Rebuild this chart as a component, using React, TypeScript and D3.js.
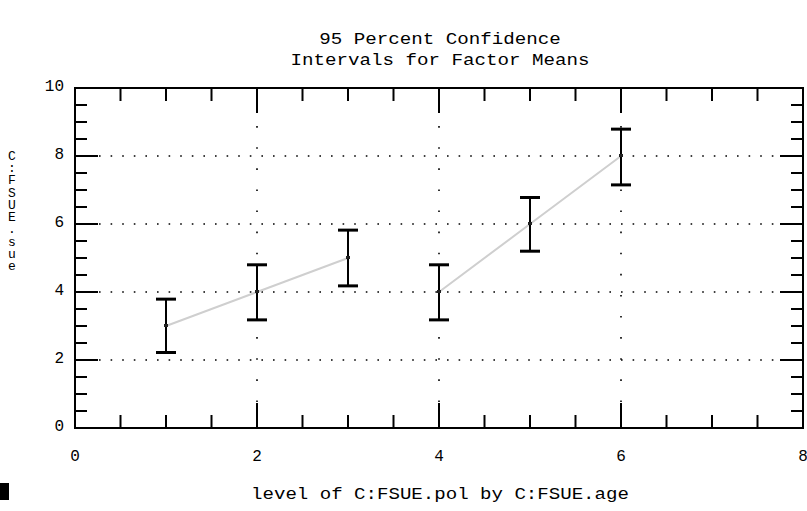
import React, { useEffect, useRef } from "react";
import * as d3 from "d3";

// factor levels and the 95% intervals
const levels = [1, 2, 3, 4, 5, 6];
const means = [3, 4, 5, 4, 6, 8];
const lower = [2.22, 3.18, 4.18, 3.18, 5.2, 7.15];
const upper = [3.79, 4.8, 5.82, 4.8, 6.78, 8.79];
const ageGroup = [1, 1, 1, 2, 2, 2];

const xMajor = [0, 2, 4, 6, 8];
const yMajor = [0, 2, 4, 6, 8, 10];
const titleLines = ["95 Percent Confidence", "Intervals for Factor Means"];
const xTitle = "level of C:FSUE.pol by C:FSUE.age";
const yTitle = "C:FSUE.sue";

const FONT = "'Liberation Mono', 'DejaVu Sans Mono', monospace";

export default function App() {
  const ref = useRef<SVGSVGElement>(null);

  useEffect(() => {
    const svg = d3.select(ref.current);
    svg.selectAll("*").remove();

    const left = 75, right = 803, top = 88, bottom = 428;
    const x = d3.scaleLinear().domain([0, 8]).range([left, right]);
    const y = d3.scaleLinear().domain([0, 10]).range([bottom, top]);

    // title
    titleLines.forEach((t, i) => {
      svg
        .append("text")
        .attr("x", 440)
        .attr("y", 44 + i * 21)
        .attr("text-anchor", "middle")
        .attr("font-family", FONT)
        .attr("font-size", 16)
        .attr("textLength", t.length * 11.5)
        .attr("lengthAdjust", "spacingAndGlyphs")
        .text(t);
    });

    // dotted grid
    const grid = svg.append("g").attr("stroke", "#000").attr("stroke-width", 1.6);
    [2, 4, 6, 8].forEach((v) => {
      grid
        .append("line")
        .attr("x1", left + 24)
        .attr("x2", right - 24)
        .attr("y1", y(v))
        .attr("y2", y(v))
        .attr("stroke-dasharray", "1.6,10");
    });
    [2, 4, 6].forEach((v) => {
      grid
        .append("line")
        .attr("x1", x(v))
        .attr("x2", x(v))
        .attr("y1", bottom - 26)
        .attr("y2", top + 26)
        .attr("stroke-dasharray", "1.6,19.5");
    });

    // frame
    svg
      .append("rect")
      .attr("x", left)
      .attr("y", top)
      .attr("width", right - left)
      .attr("height", bottom - top)
      .attr("fill", "none")
      .attr("stroke", "#000")
      .attr("stroke-width", 2);

    // ticks on all four sides, pointing inward
    const ticks = svg.append("g").attr("stroke", "#000").attr("stroke-width", 2);
    d3.range(0.5, 8, 0.5).forEach((v) => {
      const len = v % 2 === 0 ? 25 : 13;
      ticks.append("line").attr("x1", x(v)).attr("x2", x(v)).attr("y1", bottom).attr("y2", bottom - len);
      ticks.append("line").attr("x1", x(v)).attr("x2", x(v)).attr("y1", top).attr("y2", top + len);
    });
    d3.range(0.5, 10, 0.5).forEach((v) => {
      const len = v % 2 === 0 ? 23 : 12;
      ticks.append("line").attr("x1", left).attr("x2", left + len).attr("y1", y(v)).attr("y2", y(v));
      ticks.append("line").attr("x1", right).attr("x2", right - len).attr("y1", y(v)).attr("y2", y(v));
    });

    // tick labels
    xMajor.forEach((v) => {
      svg
        .append("text")
        .attr("x", x(v))
        .attr("y", 461)
        .attr("text-anchor", "middle")
        .attr("font-family", FONT)
        .attr("font-size", 16)
        .text(v);
    });
    yMajor.forEach((v) => {
      svg
        .append("text")
        .attr("x", 64)
        .attr("y", y(v) + 3)
        .attr("text-anchor", "end")
        .attr("font-family", FONT)
        .attr("font-size", 16)
        .text(v);
    });

    // axis titles
    svg
      .append("text")
      .attr("x", 440)
      .attr("y", 499)
      .attr("text-anchor", "middle")
      .attr("font-family", FONT)
      .attr("font-size", 16)
      .attr("textLength", xTitle.length * 11.45)
      .attr("lengthAdjust", "spacingAndGlyphs")
      .text(xTitle);
    // y title: upright letters stacked top to bottom
    svg
      .append("text")
      .attr("x", 12)
      .attr("y", 149)
      .attr("font-family", FONT)
      .attr("font-size", 13)
      .attr("textLength", 125)
      .attr("lengthAdjust", "spacing")
      .style("writing-mode", "vertical-rl")
      .style("text-orientation", "upright")
      .text(yTitle);

    // little black block at lower left
    svg.append("rect").attr("x", 0).attr("y", 483).attr("width", 9).attr("height", 17).attr("fill", "#000");

    // connecting lines within each age group
    const line = d3
      .line<number>()
      .x((i) => x(levels[i]))
      .y((i) => y(means[i]));
    d3.groups(d3.range(levels.length), (i) => ageGroup[i]).forEach(([, idx]) => {
      svg
        .append("path")
        .attr("d", line(idx))
        .attr("fill", "none")
        .attr("stroke", "#cfcfcf")
        .attr("stroke-width", 2);
    });

    // error bars
    const bars = svg.append("g").attr("stroke", "#000");
    levels.forEach((lv, i) => {
      const cx = x(lv);
      bars.append("line").attr("x1", cx).attr("x2", cx).attr("y1", y(lower[i])).attr("y2", y(upper[i])).attr("stroke-width", 2);
      [lower[i], upper[i]].forEach((v) => {
        bars.append("line").attr("x1", cx - 10).attr("x2", cx + 10).attr("y1", y(v)).attr("y2", y(v)).attr("stroke-width", 3);
      });
      svg.append("rect").attr("x", cx - 2).attr("y", y(means[i]) - 2).attr("width", 4).attr("height", 3).attr("fill", "#222");
    });
  }, []);

  return (
    <svg
      ref={ref}
      width={807}
      height={511}
      style={{ position: "absolute", left: 0, top: 0, background: "#fff" }}
    />
  );
}
